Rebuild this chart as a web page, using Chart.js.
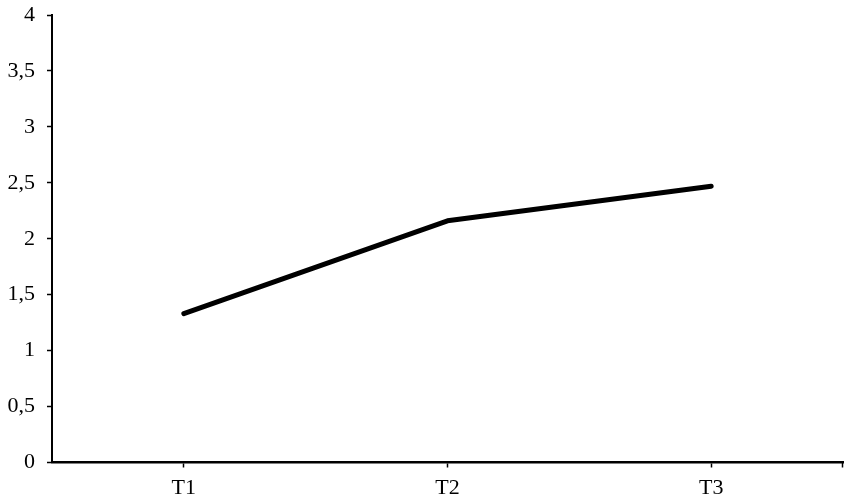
<!DOCTYPE html>
<html>
<head>
<meta charset="utf-8">
<script src="https://cdn.jsdelivr.net/npm/chart.js@4"></script>
<style>
  html, body { margin: 0; padding: 0; background: #fff; }
  .chart-box { width: 851px; height: 503px; position: relative; }
</style>
</head>
<body>
<div class="chart-box">
  <canvas id="chartLinea"></canvas>
</div>
<script>
// Data
var categories = ['T1', 'T2', 'T3'];
var values = [1.33, 2.16, 2.47];
var yTicks = [0, 0.5, 1, 1.5, 2, 2.5, 3, 3.5, 4];

// Small tick at the right end of the x axis
var endTick = {
  id: 'endTick',
  afterDraw: function (chart) {
    var ctx = chart.ctx;
    var area = chart.chartArea;
    ctx.save();
    ctx.strokeStyle = '#000';
    ctx.lineWidth = 1.5;
    ctx.beginPath();
    ctx.moveTo(area.right - 0.5, area.bottom);
    ctx.lineTo(area.right - 0.5, area.bottom + 5);
    ctx.stroke();
    ctx.restore();
  }
};

var ctx = document.getElementById('chartLinea');
new Chart(ctx, {
  type: 'line',
  data: {
    labels: categories,
    datasets: [{
      data: values,
      borderColor: '#000',
      borderWidth: 5,
      borderCapStyle: 'round',
      borderJoinStyle: 'round',
      tension: 0,
      pointRadius: 0,
      fill: false
    }]
  },
  options: {
    responsive: true,
    maintainAspectRatio: false,
    animation: false,
    layout: { padding: { top: 15, right: 8, left: 0, bottom: 0 } },
    plugins: { legend: { display: false }, tooltip: { enabled: false } },
    scales: {
      x: {
        offset: true,
        grid: { drawOnChartArea: false, offset: false, tickLength: 5, color: '#000', tickWidth: 1.5 },
        border: { color: '#000', width: 2.5 },
        ticks: { color: '#000', padding: 8, font: { family: 'Liberation Serif', size: 22 } },
        afterFit: function (scale) { scale.height = 40.5; }
      },
      y: {
        min: 0,
        max: 4,
        afterBuildTicks: function (scale) {
          scale.ticks = yTicks.map(function (v) { return { value: v }; });
        },
        grid: { drawOnChartArea: false, tickLength: 5, color: '#000', tickWidth: 1.5 },
        border: { color: '#000', width: 2 },
        ticks: {
          color: '#000',
          padding: 12,
          font: { family: 'Liberation Serif', size: 22 },
          callback: function (v) { return String(v).replace('.', ','); }
        },
        afterFit: function (scale) {
          scale.width = 52;
          scale.paddingTop = 0;
          scale.paddingBottom = 0;
        }
      }
    }
  },
  plugins: [endTick]
});
</script>
</body>
</html>
